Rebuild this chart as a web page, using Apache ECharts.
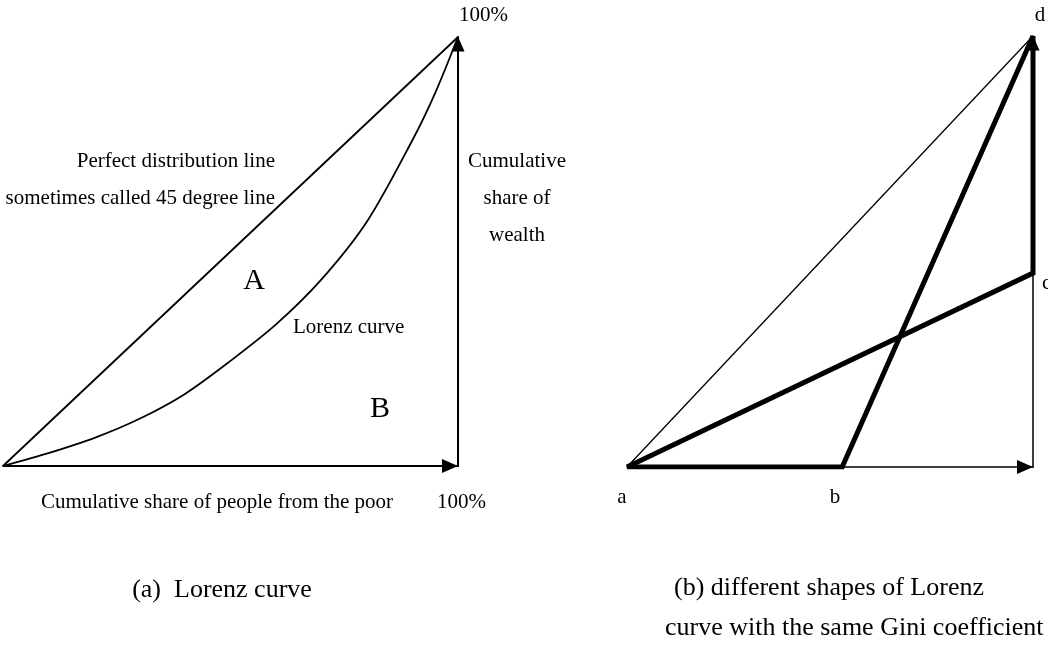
<!DOCTYPE html>
<html>
<head>
<meta charset="utf-8">
<script src="https://cdn.jsdelivr.net/npm/echarts@6/dist/echarts.min.js"></script>
<style>
  body { margin: 0; background: #fff; }
  #main { width: 1048px; height: 648px; }
</style>
</head>
<body>
<div id="main"></div>
<script>
  // 左图: 洛伦兹曲线
  var lorenzX = [0, 0.1, 0.2, 0.3, 0.4, 0.5, 0.6, 0.7, 0.8, 0.9, 0.95, 1]
  var lorenzY = [0, 0.03, 0.065, 0.11, 0.168, 0.245, 0.33, 0.435, 0.57, 0.76, 0.87, 1]
  var equalX = [0, 1]
  var equalY = [0, 1]

  // 右图: 两条基尼系数相同的折线 a-b-d, a-c-d
  var pathAbdX = [0, 0.53, 1]
  var pathAbdY = [0, 0, 1]
  var pathAcdX = [0, 1, 1]
  var pathAcdY = [0, 0.45, 1]

  var FONT = '"Liberation Serif", "Times New Roman", serif'

  function zip (xs, ys) {
    var out = []
    for (var i = 0; i < xs.length; i++) {
      out.push([xs[i], ys[i]])
    }
    return out
  }

  function axisX (idx, width) {
    return {
      type: 'value', gridIndex: idx, min: 0, max: 1,
      axisLine: {
        onZero: false,
        lineStyle: {color: '#000', width: width},
        symbol: ['none', 'triangle'],
        symbolSize: [14, 16],
        symbolOffset: [0, -8]
      },
      axisTick: {show: false}, axisLabel: {show: false}, splitLine: {show: false}
    }
  }

  function axisY (idx, width) {
    return {
      type: 'value', gridIndex: idx, min: 0, max: 1, position: 'right',
      axisLine: {
        onZero: false,
        lineStyle: {color: '#000', width: width},
        symbol: ['none', 'triangle'],
        symbolSize: [13, 15],
        symbolOffset: [0, -7]
      },
      axisTick: {show: false}, axisLabel: {show: false}, splitLine: {show: false}
    }
  }

  function line (idx, data, width, smooth) {
    return {
      type: 'line', xAxisIndex: idx, yAxisIndex: idx,
      data: data, symbol: 'none', smooth: smooth || false,
      silent: true, animation: false,
      lineStyle: {color: '#000', width: width, join: 'miter'}
    }
  }

  function txt (x, y, text, size, align) {
    return {
      type: 'text', x: x, y: y, silent: true,
      style: {
        text: text, fill: '#000', font: size + 'px ' + FONT,
        textAlign: align || 'left', textVerticalAlign: 'middle'
      }
    }
  }

  var myChart = echarts.init(document.getElementById('main'))
  myChart.setOption({
    animation: false,
    backgroundColor: '#fff',
    grid: [
      {left: 3, top: 37, width: 455, height: 429},
      {left: 627, top: 36, width: 406, height: 431}
    ],
    xAxis: [axisX(0, 2), axisX(1, 1.5)],
    yAxis: [axisY(0, 2), axisY(1, 1.5)],
    series: [
      line(0, zip(equalX, equalY), 1.8),
      line(0, zip(lorenzX, lorenzY), 1.8, 0.3),
      line(1, zip(equalX, equalY), 1.3),
      line(1, zip(pathAbdX, pathAbdY), 5),
      line(1, zip(pathAcdX, pathAcdY), 5)
    ],
    graphic: [
      txt(459, 15, '100%', 21),
      txt(275, 161, 'Perfect distribution line', 21, 'right'),
      txt(275, 198, 'sometimes called 45 degree line', 21, 'right'),
      txt(517, 161, 'Cumulative', 21, 'center'),
      txt(517, 198, 'share of', 21, 'center'),
      txt(517, 235, 'wealth', 21, 'center'),
      txt(254, 281, 'A', 30, 'center'),
      txt(293, 327, 'Lorenz curve', 21),
      txt(380, 409, 'B', 30, 'center'),
      txt(217, 502, 'Cumulative share of people from the poor', 21, 'center'),
      txt(437, 502, '100%', 21),
      txt(622, 497, 'a', 21, 'center'),
      txt(835, 497, 'b', 21, 'center'),
      txt(1042, 283, 'c', 21),
      txt(1040, 15, 'd', 21, 'center'),
      txt(222, 590, '(a)  Lorenz curve', 26, 'center'),
      txt(829, 588, '(b) different shapes of Lorenz', 26, 'center'),
      txt(665, 628, 'curve with the same Gini coefficient', 26)
    ]
  })
</script>
</body>
</html>
